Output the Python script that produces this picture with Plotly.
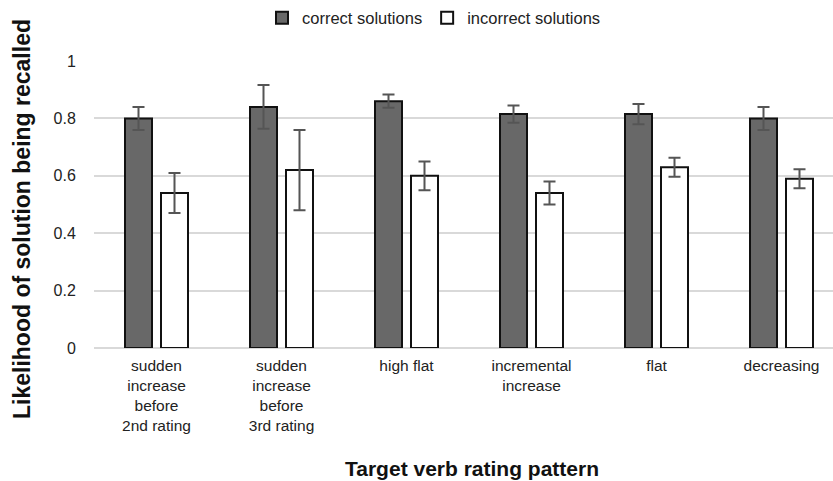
import plotly.graph_objects as go

categories = ["sudden<br>increase<br>before<br>2nd rating",
              "sudden<br>increase<br>before<br>3rd rating",
              "high flat",
              "incremental<br>increase",
              "flat",
              "decreasing"]
correct = [0.80, 0.84, 0.86, 0.815, 0.815, 0.80]
correct_err = [0.04, 0.076, 0.023, 0.03, 0.035, 0.04]
incorrect = [0.54, 0.62, 0.60, 0.54, 0.63, 0.59]
incorrect_err = [0.07, 0.14, 0.05, 0.04, 0.033, 0.033]

font = "Liberation Sans, Arial, sans-serif"

W, H = 833, 481
L, R, T, B = 94, 0, 61, 133
pw, ph = W - L - R, H - T - B

def px_x(x):
    return (x - L) / pw

def px_y(y):
    return (H - B - y) / ph

fig = go.Figure()
fig.add_trace(go.Bar(
    x=categories, y=correct, name="correct solutions",
    marker=dict(color="#686868", line=dict(color="#111111", width=2)),
    error_y=dict(type="data", array=correct_err, color="#555555", thickness=2, width=6),
))
fig.add_trace(go.Bar(
    x=categories, y=incorrect, name="incorrect solutions",
    marker=dict(color="#ffffff", line=dict(color="#111111", width=2)),
    error_y=dict(type="data", array=incorrect_err, color="#555555", thickness=2, width=6),
))

fig.update_layout(
    width=W, height=H,
    margin=dict(l=L, r=R, t=T, b=B),
    paper_bgcolor="white", plot_bgcolor="white",
    barmode="group", bargap=0.424, bargroupgap=0.25,
    font=dict(family=font, size=15.5, color="#222222"),
    legend=dict(orientation="h", x=px_x(434), xanchor="center", y=px_y(18), yanchor="middle",
                font=dict(family=font, size=16.5, color="#222222"),
                itemwidth=30, traceorder="normal", bgcolor="rgba(0,0,0,0)"),
    showlegend=True,
    annotations=[
        dict(text="<b>Target verb rating pattern</b>", x=px_x(472), y=px_y(468),
             xref="paper", yref="paper", showarrow=False, xanchor="center", yanchor="middle",
             font=dict(family=font, size=21, color="#111111")),
        dict(text="<b>Likelihood of solution being recalled</b>", x=px_x(22), y=px_y(219),
             xref="paper", yref="paper", showarrow=False, xanchor="center", yanchor="middle",
             textangle=-90, font=dict(family=font, size=23, color="#111111")),
    ],
)
fig.update_xaxes(
    range=[-0.5, (W - L - R) / 125 - 0.5], showgrid=False, showline=False, zeroline=False,
    automargin=False, ticks="outside", ticklen=3, tickcolor="rgba(0,0,0,0)",
    tickfont=dict(family=font, size=15.5, color="#222222"),
)
fig.update_yaxes(
    range=[0, 1], showgrid=True, gridcolor="#d9d9d9", gridwidth=2, automargin=False,
    zeroline=True, zerolinecolor="#d9d9d9", zerolinewidth=2, showline=False,
    ticks="outside", ticklen=14, tickcolor="rgba(0,0,0,0)",
    tickfont=dict(family=font, size=16, color="#222222"),
    tickvals=[0, 0.2, 0.4, 0.6, 0.8, 1], ticktext=["0", "0.2", "0.4", "0.6", "0.8", "1"],
)

fig.write_html("out.html", config={"displayModeBar": False},
               post_script="document.body.style.margin='0';document.body.style.overflow='hidden';")
